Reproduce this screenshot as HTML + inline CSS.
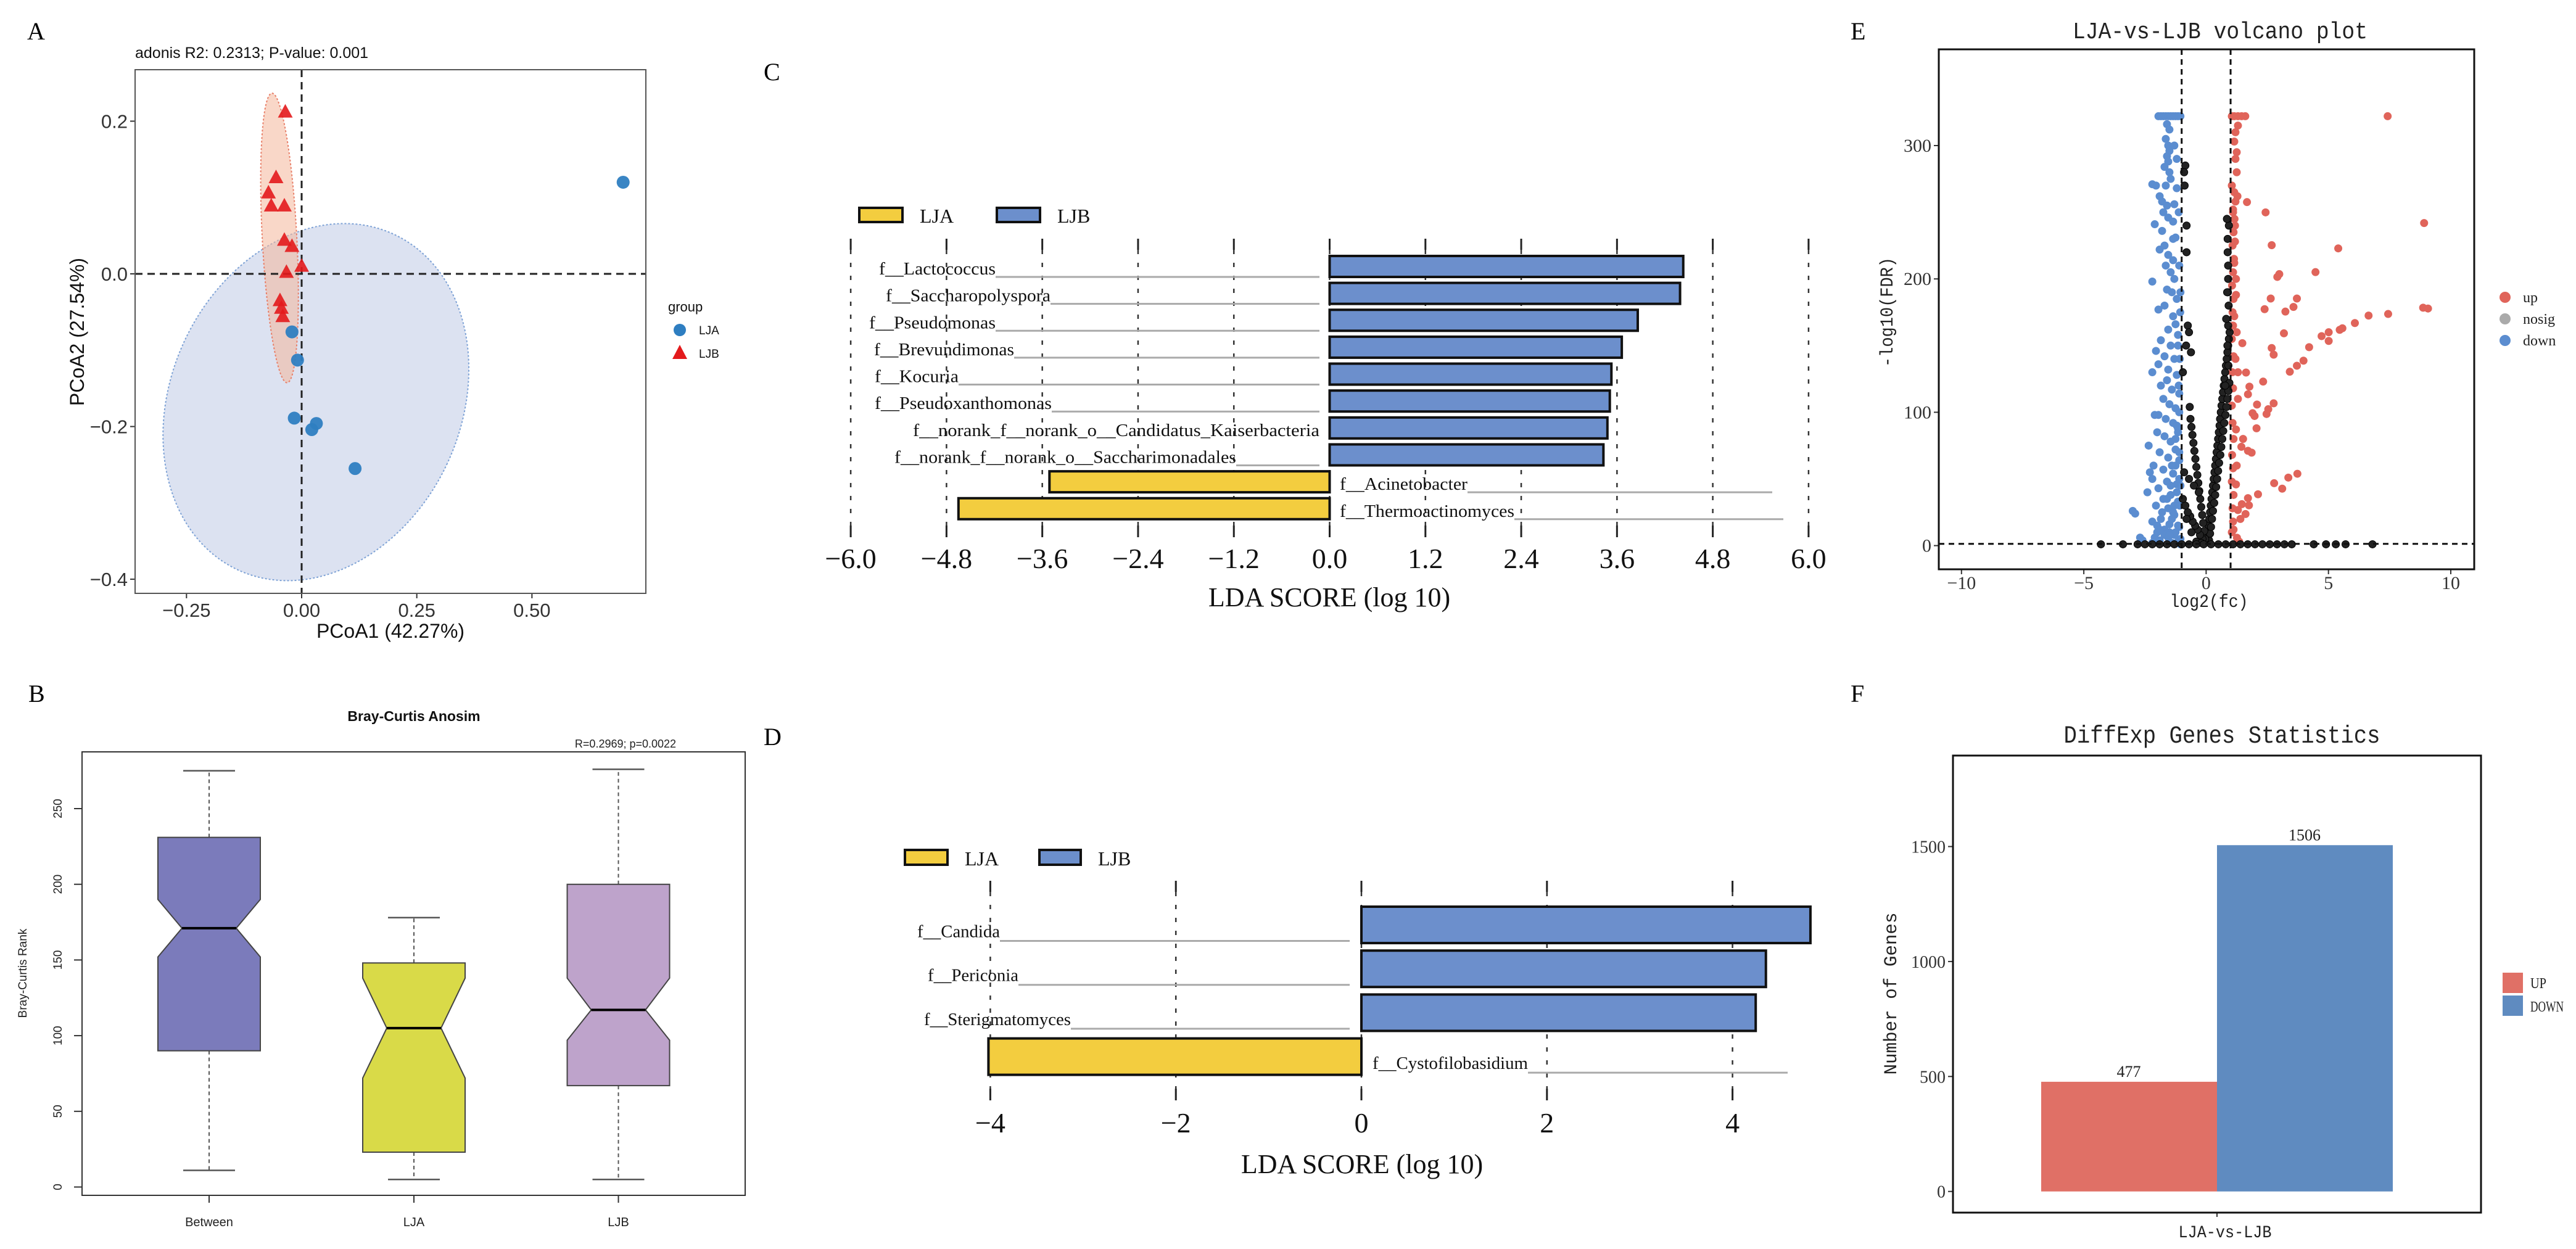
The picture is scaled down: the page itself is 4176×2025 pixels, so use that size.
<!DOCTYPE html>
<html><head><meta charset="utf-8">
<style>
html,body{margin:0;padding:0;background:#fff;}
svg{display:block;}
.serif{font-family:"Liberation Serif","Noto Serif CJK SC",serif;}
.sans{font-family:"Liberation Sans",sans-serif;}
.mono{font-family:"Liberation Mono","Noto Sans CJK SC",monospace;}
</style></head>
<body>
<svg id="fig" xmlns="http://www.w3.org/2000/svg" width="4176" height="2025" viewBox="0 0 4176 2025">
<rect x="0" y="0" width="4176" height="2025" fill="#fff"/>

<!-- Panel letters -->
<text class="serif" x="44" y="64" font-size="40">A</text>
<text class="serif" x="46" y="1138" font-size="40">B</text>
<text class="serif" x="1238" y="130" font-size="40">C</text>
<text class="serif" x="1238" y="1208" font-size="40">D</text>
<text class="serif" x="3000" y="64" font-size="40">E</text>
<text class="serif" x="3000" y="1138" font-size="40">F</text>

<!-- Panel A -->
<g id="panelA">
  <text class="sans" x="219" y="94" font-size="25" fill="#111">adonis R2: 0.2313; P-value: 0.001</text>
  <g id="pcoaPlot"></g>
  <rect x="219" y="113" width="828" height="849" fill="none" stroke="#555" stroke-width="2"/>
  <text class="sans" x="633" y="1034" font-size="32" text-anchor="middle" fill="#111">PCoA1 (42.27%)</text>
  <text class="sans" x="136" y="538" font-size="32" text-anchor="middle" fill="#111" transform="rotate(-90 136 538)">PCoA2 (27.54%)</text>
  <text class="sans" x="1083" y="505" font-size="22" fill="#111">group</text>
  <circle cx="1102" cy="535" r="10" fill="#2E7EC1"/>
  <text class="sans" x="1133" y="542" font-size="19" fill="#111">LJA</text>
  <polygon points="1102,559 1114,582 1090,582" fill="#E31A1C"/>
  <text class="sans" x="1133" y="580" font-size="19" fill="#111">LJB</text>
</g>

<!-- Panel B -->
<g id="panelB">
  <text class="sans" x="671" y="1169" font-size="23" font-weight="bold" text-anchor="middle" fill="#111">Bray-Curtis Anosim</text>
  <text class="sans" x="1014" y="1212" font-size="18" text-anchor="middle" fill="#222">R=0.2969; p=0.0022</text>
  <g id="anosimPlot"></g>
  <rect x="133" y="1219" width="1075" height="719" fill="none" stroke="#333" stroke-width="2"/>
  <text class="sans" x="43" y="1578" font-size="19" text-anchor="middle" fill="#222" transform="rotate(-90 43 1578)">Bray-Curtis Rank</text>
</g>

<!-- Panel C -->
<g id="panelC">
  <rect x="1393" y="337" width="70" height="23" fill="#F3CD3F" stroke="#111" stroke-width="4"/>
  <text class="serif" x="1491" y="361" font-size="32" fill="#111">LJA</text>
  <rect x="1616" y="337" width="70" height="23" fill="#6C8FCC" stroke="#111" stroke-width="4"/>
  <text class="serif" x="1714" y="361" font-size="32" fill="#111">LJB</text>
  <g id="ldaCPlot"></g>
  <text class="serif" x="2155" y="983" font-size="44" text-anchor="middle" fill="#111">LDA SCORE (log 10)</text>
</g>

<!-- Panel D -->
<g id="panelD">
  <rect x="1467" y="1378" width="69" height="24" fill="#F3CD3F" stroke="#111" stroke-width="4"/>
  <text class="serif" x="1564" y="1403" font-size="32" fill="#111">LJA</text>
  <rect x="1685" y="1378" width="67" height="24" fill="#6C8FCC" stroke="#111" stroke-width="4"/>
  <text class="serif" x="1780" y="1403" font-size="32" fill="#111">LJB</text>
  <g id="ldaDPlot"></g>
  <text class="serif" x="2208" y="1902" font-size="44" text-anchor="middle" fill="#111">LDA SCORE (log 10)</text>
</g>

<!-- Panel E -->
<g id="panelE">
  <text class="mono" x="3599" y="62" font-size="38" text-anchor="middle" textLength="478" lengthAdjust="spacingAndGlyphs" fill="#222">LJA-vs-LJB volcano plot</text>
  <g id="volPlot"></g>
  <rect x="3143" y="80" width="868" height="843" fill="none" stroke="#111" stroke-width="3"/>
  <text class="mono" x="3581" y="984" font-size="30" text-anchor="middle" textLength="127" lengthAdjust="spacingAndGlyphs" fill="#222">log2(fc)</text>
  <text class="mono" x="3068" y="506" font-size="30" text-anchor="middle" textLength="178" lengthAdjust="spacingAndGlyphs" fill="#222" transform="rotate(-90 3068 506)">-log10(FDR)</text>
  <circle cx="4061" cy="482" r="9" fill="#E0645A"/>
  <text class="serif" x="4090" y="490" font-size="24" fill="#222">up</text>
  <circle cx="4061" cy="517" r="9" fill="#AAAAAA"/>
  <text class="serif" x="4090" y="525" font-size="24" fill="#222">nosig</text>
  <circle cx="4061" cy="552" r="9" fill="#5B8DD0"/>
  <text class="serif" x="4090" y="560" font-size="24" fill="#222">down</text>
</g>

<!-- Panel F -->
<g id="panelF">
  <text class="mono" x="3602" y="1204" font-size="40" text-anchor="middle" textLength="513" lengthAdjust="spacingAndGlyphs" fill="#222">DiffExp Genes Statistics</text>
  <g id="degPlot"></g>
  <rect x="3166" y="1225" width="856" height="741" fill="none" stroke="#111" stroke-width="3"/>
  <text class="mono" x="3607" y="2006" font-size="28" text-anchor="middle" textLength="151" lengthAdjust="spacingAndGlyphs" fill="#222">LJA-vs-LJB</text>
  <text class="mono" x="3074" y="1611" font-size="30" text-anchor="middle" textLength="263" lengthAdjust="spacingAndGlyphs" fill="#222" transform="rotate(-90 3074 1611)">Number of Genes</text>
  <rect x="4057" y="1577" width="33" height="33" fill="#E07066"/>
  <text class="serif" x="4102" y="1602" font-size="24" textLength="26" lengthAdjust="spacingAndGlyphs" fill="#222">UP</text>
  <rect x="4057" y="1614" width="33" height="33" fill="#5F8BC0"/>
  <text class="serif" x="4102" y="1640" font-size="24" textLength="54" lengthAdjust="spacingAndGlyphs" fill="#222">DOWN</text>
</g>
</svg>

<script>
// ---------- DATA: Panel A (PCoA) ----------
const pcoaXTicks = [-0.25, 0, 0.25, 0.5];
const pcoaXTickLabels = ["\u22120.25", "0.00", "0.25", "0.50"];
const pcoaYTicks = [-0.4, -0.2, 0, 0.2];
const pcoaYTickLabels = ["\u22120.4", "\u22120.2", "0.0", "0.2"];
const pcoaLJBx = [-0.0355, -0.0556, -0.072, -0.066, -0.0375, -0.0375, -0.021, 0.0, -0.033, -0.047, -0.044, -0.041];
const pcoaLJBy = [0.212, 0.126, 0.106, 0.089, 0.089, 0.044, 0.036, 0.010, 0.002, -0.035, -0.045, -0.056];
const pcoaLJAx = [0.698, -0.021, -0.009, -0.016, 0.032, 0.022, 0.116];
const pcoaLJAy = [0.120, -0.076, -0.113, -0.189, -0.196, -0.204, -0.255];
const pcoaEllipseCenterX = [-0.048, 0.031];
const pcoaEllipseCenterY = [0.047, -0.168];

// ---------- DATA: Panel B (ANOSIM) ----------
const anosimCats = ["Between", "LJA", "LJB"];
const anosimLo = [11, 5, 5];
const anosimQ1 = [90, 23, 67];
const anosimNotchLo = [152, 72, 97];
const anosimMed = [171, 105, 117];
const anosimNotchHi = [190, 138, 138];
const anosimQ3 = [231, 148, 200];
const anosimHi = [275, 178, 276];
const anosimYTicks = [0, 50, 100, 150, 200, 250];

// ---------- DATA: Panel C (LEfSe bacteria) ----------
const ldaCNames = ["f__Lactococcus", "f__Saccharopolyspora", "f__Pseudomonas", "f__Brevundimonas", "f__Kocuria", "f__Pseudoxanthomonas", "f__norank_f__norank_o__Candidatus_Kaiserbacteria", "f__norank_f__norank_o__Saccharimonadales", "f__Acinetobacter", "f__Thermoactinomyces"];
const ldaCValues = [4.43, 4.39, 3.86, 3.66, 3.53, 3.51, 3.48, 3.43, -3.51, -4.65];
const ldaCTicks = [-6, -4.8, -3.6, -2.4, -1.2, 0, 1.2, 2.4, 3.6, 4.8, 6];
const ldaCTickLabels = ["\u22126.0", "\u22124.8", "\u22123.6", "\u22122.4", "\u22121.2", "0.0", "1.2", "2.4", "3.6", "4.8", "6.0"];

// ---------- DATA: Panel D (LEfSe fungi) ----------
const ldaDNames = ["f__Candida", "f__Periconia", "f__Sterigmatomyces", "f__Cystofilobasidium"];
const ldaDValues = [4.84, 4.36, 4.25, -4.02];
const ldaDTicks = [-4, -2, 0, 2, 4];
const ldaDTickLabels = ["\u22124", "\u22122", "0", "2", "4"];

// ---------- DATA: Panel E (volcano) ----------
const volXTicks = [-10, -5, 0, 5, 10];
const volXTickLabels = ["\u221210", "\u22125", "0", "5", "10"];
const volYTicks = [0, 100, 200, 300];
const volUpX = [7.42,1.67,2.43,8.91,2.68,5.40,4.47,2.99,2.91,2.64,3.71,2.39,3.57,8.87,9.07,7.44,3.24,6.64,6.08,5.57,5.46,5.01,4.72,3.18,5.01,1.48,4.21,2.68,2.76,3.98,3.71,3.42,1.63,2.33,1.77,1.71,2.76,2.08,2.54,1.90,2.47,1.98,2.06,1.22,1.51,1.44,1.71,1.86,3.73,3.36,2.78,3.11,1.22,2.12,1.71,1.46,1.75,1.61,1.30,1.26,
 1.05,1.10,1.08,1.12,1.05,1.10,1.06,1.12,1.08,1.05,1.10,1.07,1.12,1.05,1.10,1.08,1.12,1.06,1.10,1.14,1.08,1.12,1.16,1.10,1.20,1.15,1.05,1.20,1.25,1.15,1.20,1.30,1.05,1.15,1.30,1.45,1.60,1.25,1.18,1.22,1.25,1.30,1.18,1.15,1.22,1.10,1.28,1.15,1.20,1.12,1.35,1.40,1.30,1.25];
const volUpY = [322.5,257.6,249.9,241.9,225.3,222.9,205.1,203.6,201.5,185.3,185.3,177.3,179,178.4,177.8,173.7,175.5,172.5,166.9,163,161.8,160,157.1,159.2,153.5,151.8,148.8,148.2,143.2,138.7,134.9,130.4,129.8,123,119.2,113.5,106.7,105.8,102.3,99.3,98.7,97.2,88,87.1,80,74.1,71.1,69.7,53.9,51,46.8,42.7,45.9,38.5,35.6,31.1,30.2,23.7,26.7,5.9,
 10,18,28,38,48,58,68,80,92,105,118,130,142,155,165,175,185,195,205,215,225,235,245,252,258,265,270,290,295,303,310,315,322,322,322,322,322,280,240,200,160,130,228,212,188,250,262,172,140,12,3,20,110,60];
const volDownX = [-1.95,-1.85,-1.75,-1.65,-1.55,-1.45,-1.35,-1.25,-1.15,-1.05,
 -1.6,-1.5,-1.65,-1.55,-1.5,-1.6,-1.55,-1.7,-1.5,-1.45,-1.65,-2.2,-2.05,-1.2,-1.9,-1.8,-1.6,-1.3,-1.75,-1.55,-1.35,-2.1,-1.8,-1.25,-1.7,-1.9,-1.55,-1.35,-1.65,-1.45,-1.3,-2.2,-1.6,-1.4,-1.2,-1.7,-1.95,-1.35,-1.25,-1.55,-1.15,-1.85,-1.45,-2.05,-1.7,-1.3,-1.95,-1.55,-2.2,-1.2,-1.6,-1.85,-1.4,-1.1,-1.75,-1.5,-1.25,-2.1,-1.95,-1.65,-1.35,-1.15,-2.0,-1.7,-1.45,-2.35,-1.25,-1.9,-1.55,-1.1,-2.15,-1.75,-1.35,-2.3,-2.2,-1.6,-1.2,-1.95,-2.4,-1.45,-1.75,-1.15,-2.05,-1.55,-3.0,-2.9,-1.3,-1.85,-2.2,-1.5,-1.1,-1.7,-2.0,-1.3,-1.55,-2.7,-2.6,-1.9,-1.15,-1.4,-2.2,-1.05,-1.25,-1.05,-1.1,-1.08,-1.06,-1.1,-1.12,-1.2,-1.3,-1.15,-1.08,-1.12,
 -1.1,-1.2,-1.3,-1.4,-1.15,-1.25,-1.35,-1.1,-1.2,-1.05,-1.45,-1.6,-1.8,-2.0,-1.5,-1.7,-1.9,-2.1,-1.4,-1.25,-1.15,-1.05,-1.35,-1.5];
const volDownY = [322,322,322,322,322,322,322,322,322,322,
 316,312,305,300,296,292,288,284,280,275,270,271,270,268,262,258,255,256,250,246,243,241,236,231,225,222,218,214,210,205,200,198,192,190,185,180,177,172,166,162,158,154,150,146,142,140,136,132,130,128,124,120,117,114,110,106,103,98,98,95,92,88,85,82,78,75,72,70,66,64,60,57,54,55,50,48,46,43,40,38,35,33,30,28,26,24,23,20,18,16,14,12,10,8,6,6,4,4,3,2,2,1,60,45,100,140,175,210,250,290,300,85,30,120,
 50,40,30,20,15,10,25,70,90,5,45,35,25,15,10,8,12,6,60,80,150,190,230,8];
const volNsX = [0.05,0.08,0.10,0.13,0.16,0.19,0.22,0.25,0.28,0.31,0.34,0.37,0.40,0.43,0.46,0.49,0.52,0.55,0.57,0.60,0.63,0.66,0.69,0.72,0.75,0.78,0.81,0.84,0.87,0.90,0.93,0.96,
 0.12,0.16,0.20,0.24,0.28,0.33,0.37,0.41,0.45,0.49,0.53,0.58,0.62,0.66,0.70,0.74,0.79,0.83,0.87,0.91,0.95,0.92,0.90,0.88,0.93,0.90,0.87,0.91,0.89,
 -0.04,-0.08,-0.12,-0.16,-0.20,-0.24,-0.28,-0.32,-0.36,-0.40,-0.44,-0.48,-0.52,-0.56,-0.60,-0.64,-0.67,
 -0.15,-0.25,-0.35,-0.45,-0.55,-0.65,-0.75,-0.85,-0.95,-0.30,-0.50,-0.70,-0.90,-0.60,-0.80,-0.40,-0.20,
 -4.3,-3.4,-2.8,-2.5,-2.2,-1.9,-1.6,-1.3,-1.0,-0.7,-0.4,-0.1,0.2,0.5,0.8,1.1,1.4,1.7,2.0,2.3,2.6,2.9,3.2,3.5,4.4,4.9,5.3,5.7,6.8,
 -0.85,-0.9,-0.8,-0.8,-0.75,-0.7,-0.62,-0.88,-0.82,-0.95,0.85,0.88,0.9,0.86,0.82,0.78];
const volNsY = [5,10,15,20,25,30,35,40,45,50,55,60,65,70,75,80,85,90,95,100,105,110,115,120,125,130,135,140,145,150,155,160,
 4,9,14,20,26,32,38,44,50,56,62,68,74,80,86,92,98,104,110,116,122,180,200,220,240,165,150,135,190,
 5,11,17,23,29,35,41,47,53,59,65,71,77,83,89,95,104,
 5,8,12,15,18,22,25,30,35,40,45,50,55,10,20,3,2,
 1,1,1,1,1,1,1,1,1,1,1,1,1,1,1,1,1,1,1,1,1,1,1,1,1,1,1,1,1,
 285,280,240,220,165,160,145,270,150,130,245,230,210,190,170,120];

// ---------- DATA: Panel F ----------
const degCats = ["UP", "DOWN"];
const degValues = [477, 1506];
const degYTicks = [0, 500, 1000, 1500];

// ---------- LAYOUT (positions, not data) ----------
const ldaCLabelLeft = [1425, 1436, 1409, 1417, 1418, 1418, 1480, 1450, 2172, 2172];
const ldaCLabelEnd = [1614, 1703, 1614, 1644, 1554, 1705, 2139, 2004, 2379, 2455];
const ldaCLineEnd = [2139, 2139, 2139, 2139, 2139, 2139, 2139, 2139, 2873, 2891];
const ldaDLabelLeft = [1487, 1504, 1498, 2225];
const ldaDLabelEnd = [1621, 1651, 1736, 2477];
const ldaDLineEnd = [2188, 2188, 2188, 2898];

const NS = "http://www.w3.org/2000/svg";
function mk(tag, attrs, parent) {
  const e = document.createElementNS(NS, tag);
  for (const k in attrs) e.setAttribute(k, attrs[k]);
  parent.appendChild(e);
  return e;
}
function txt(parent, s, attrs) {
  const e = mk("text", attrs, parent);
  e.textContent = s;
  return e;
}

// ===== Panel A =====
(function () {
  const g = document.getElementById("pcoaPlot");
  const ax = v => 489 + v * 746.7;
  const ay = v => 444 - v * 1237.7;
  const eb = mk("ellipse", {cx: ax(pcoaEllipseCenterX[1]), cy: ay(pcoaEllipseCenterY[1]), rx: 235, ry: 300,
    transform: "rotate(25 " + ax(pcoaEllipseCenterX[1]) + " " + ay(pcoaEllipseCenterY[1]) + ")",
    fill: "#B9C6E4", "fill-opacity": 0.5, stroke: "#7FA3D6", "stroke-width": 2, "stroke-dasharray": "3,3"}, g);
  
  
  const er = mk("ellipse", {cx: ax(pcoaEllipseCenterX[0]), cy: ay(pcoaEllipseCenterY[0]), rx: 28, ry: 235,
    transform: "rotate(-3 " + ax(pcoaEllipseCenterX[0]) + " " + ay(pcoaEllipseCenterY[0]) + ")",
    fill: "#F4B79A", "fill-opacity": 0.55, stroke: "#E8806A", "stroke-width": 2, "stroke-dasharray": "3,3"}, g);
  
  
  const zl1 = mk("line", {x1: ax(0), x2: ax(0), y1: 113, y2: 962, stroke: "#222", "stroke-width": 3, "stroke-dasharray": "12,8"}, g);
  
  
  const zl2 = mk("line", {x1: 219, x2: 1047, y1: ay(0), y2: ay(0), stroke: "#222", "stroke-width": 3, "stroke-dasharray": "12,8"}, g);
  
  
  for (let i = 0; i < pcoaLJAx.length; i++) {
    const c = mk("circle", {cx: ax(pcoaLJAx[i]), cy: ay(pcoaLJAy[i]), r: 10.5, fill: "#2E7EC1", "fill-opacity": 0.95}, g);
    
    
  }
  for (let i = 0; i < pcoaLJBx.length; i++) {
    const x = ax(pcoaLJBx[i]), y = ay(pcoaLJBy[i]);
    const p = mk("polygon", {points: x + "," + (y - 13) + " " + (x + 12) + "," + (y + 9) + " " + (x - 12) + "," + (y + 9), fill: "#E31A1C", "fill-opacity": 0.9}, g);
    
    
  }
  for (let i = 0; i < pcoaXTicks.length; i++) {
    const x = ax(pcoaXTicks[i]);
    const t = mk("line", {x1: x, x2: x, y1: 962, y2: 970, stroke: "#333", "stroke-width": 2}, g);
    
    
    const l = txt(g, pcoaXTickLabels[i], {x: x, y: 1000, "font-size": 31, "text-anchor": "middle", fill: "#333", class: "sans"});
    
    
  }
  for (let i = 0; i < pcoaYTicks.length; i++) {
    const y = ay(pcoaYTicks[i]);
    const t = mk("line", {x1: 211, x2: 219, y1: y, y2: y, stroke: "#333", "stroke-width": 2}, g);
    
    
    const l = txt(g, pcoaYTickLabels[i], {x: 207, y: y + 11, "font-size": 31, "text-anchor": "end", fill: "#333", class: "sans"});
    
    
  }
})();

// ===== Panel B =====
(function () {
  const g = document.getElementById("anosimPlot");
  const by = v => 1924.5 - v * 2.454;
  const bx = i => [339, 671, 1002.5][i];
  const fills = ["#7B7BBB", "#D9DA48", "#BEA3CB"];
  for (let i = 0; i < anosimCats.length; i++) {
    const cx = bx(i), x0 = cx - 83, x1 = cx + 83, n = 39;
    const w1 = mk("line", {x1: cx, x2: cx, y1: by(anosimQ3[i]), y2: by(anosimHi[i]), stroke: "#555", "stroke-width": 2, "stroke-dasharray": "6,5"}, g);
    
    
    const w2 = mk("line", {x1: cx, x2: cx, y1: by(anosimQ1[i]), y2: by(anosimLo[i]), stroke: "#555", "stroke-width": 2, "stroke-dasharray": "6,5"}, g);
    
    
    const c1 = mk("line", {x1: cx - 42, x2: cx + 42, y1: by(anosimHi[i]), y2: by(anosimHi[i]), stroke: "#555", "stroke-width": 2.5}, g);
    
    
    const c2 = mk("line", {x1: cx - 42, x2: cx + 42, y1: by(anosimLo[i]), y2: by(anosimLo[i]), stroke: "#555", "stroke-width": 2.5}, g);
    
    
    const pts = [[x0, by(anosimQ3[i])], [x1, by(anosimQ3[i])], [x1, by(anosimNotchHi[i])], [x1 - n, by(anosimMed[i])], [x1, by(anosimNotchLo[i])], [x1, by(anosimQ1[i])], [x0, by(anosimQ1[i])], [x0, by(anosimNotchLo[i])], [x0 + n, by(anosimMed[i])], [x0, by(anosimNotchHi[i])]];
    const box = mk("polygon", {points: pts.map(p => p.join(",")).join(" "), fill: fills[i], stroke: "#444", "stroke-width": 2}, g);
    
    
    const m = mk("line", {x1: x0 + n, x2: x1 - n, y1: by(anosimMed[i]), y2: by(anosimMed[i]), stroke: "#000", "stroke-width": 4}, g);
    
    
    const t = mk("line", {x1: cx, x2: cx, y1: 1938, y2: 1950, stroke: "#333", "stroke-width": 2}, g);
    
    
    const l = txt(g, anosimCats[i], {x: cx, y: 1988, "font-size": 20, "text-anchor": "middle", fill: "#222", class: "sans"});
    
    
  }
  for (let i = 0; i < anosimYTicks.length; i++) {
    const y = by(anosimYTicks[i]);
    const t = mk("line", {x1: 120, x2: 133, y1: y, y2: y, stroke: "#333", "stroke-width": 2}, g);
    
    
    const l = txt(g, String(anosimYTicks[i]), {x: 100, y: y, "font-size": 19, "text-anchor": "middle", fill: "#222", class: "sans", transform: "rotate(-90 100 " + y + ")"});
    
    
  }
})();

// ===== LDA bar chart builder =====
function ldaChart(g, names, values, ticks, tickLabels, opt) {
  const sx = v => opt.zero + v * opt.unit;
  for (let i = 0; i < ticks.length; i++) {
    const x = sx(ticks[i]);
    const a = mk("line", {x1: x, x2: x, y1: opt.top, y2: opt.top + 18, stroke: "#222", "stroke-width": 3}, g);
    
    
    const d = mk("line", {x1: x, x2: x, y1: opt.top + 18, y2: opt.bot, stroke: "#333", "stroke-width": 2.5, "stroke-dasharray": "7,14"}, g);
    
    
    const b = mk("line", {x1: x, x2: x, y1: opt.bot, y2: opt.bot + 19, stroke: "#222", "stroke-width": 3}, g);
    
    
    const l = txt(g, tickLabels[i], {x: x, y: opt.tickY, "font-size": 46, "text-anchor": "middle", fill: "#111", class: "serif"});
    
    
  }
  for (let i = 0; i < names.length; i++) {
    const c = opt.row0 + i * opt.pitch;
    const v = values[i];
    const x0 = Math.min(sx(0), sx(v)), w = Math.abs(sx(v) - sx(0));
    const r = mk("rect", {x: x0, y: c - opt.bh / 2, width: w, height: opt.bh, fill: v > 0 ? "#6C8FCC" : "#F3CD3F", stroke: "#111", "stroke-width": 4}, g);
    
    
    const left = opt.labelLeft[i], end = opt.labelEnd[i];
    const ln = mk("line", {x1: end, x2: opt.lineEnd[i], y1: c + opt.lineOff, y2: c + opt.lineOff, stroke: "#aaa", "stroke-width": 3}, g);
    
    
    const t = txt(g, names[i], {x: left, y: c + opt.baseOff, "font-size": opt.fs, fill: "#111", class: "serif", textLength: end - left, lengthAdjust: "spacingAndGlyphs"});
    
    
  }
}
ldaChart(document.getElementById("ldaCPlot"), ldaCNames, ldaCValues, ldaCTicks, ldaCTickLabels,
  {zero: 2155.5, unit: 129.4, top: 387, bot: 852, tickY: 921, row0: 432, pitch: 43.64, bh: 34, fs: 28, baseOff: 13, lineOff: 17,
   labelLeft: ldaCLabelLeft, labelEnd: ldaCLabelEnd, lineEnd: ldaCLineEnd});
ldaChart(document.getElementById("ldaDPlot"), ldaDNames, ldaDValues, ldaDTicks, ldaDTickLabels,
  {zero: 2207, unit: 150.4, top: 1428, bot: 1765, tickY: 1836, row0: 1499.5, pitch: 71.2, bh: 59, fs: 28, baseOff: 20, lineOff: 26,
   labelLeft: ldaDLabelLeft, labelEnd: ldaDLabelEnd, lineEnd: ldaDLineEnd});

// ===== Panel E =====
(function () {
  const g = document.getElementById("volPlot");
  const vx = v => 3576.4 + v * 39.66;
  const vy = v => 884.6 - v * 2.162;
  function pts(xs, ys, fill, stroke, name) {
    const n = Math.min(xs.length, ys.length);
    for (let i = 0; i < n; i++) {
      const c = mk("circle", {cx: vx(xs[i]), cy: vy(Math.min(ys[i], 322)), r: 6, fill: fill, stroke: stroke, "stroke-width": 1}, g);
      
      
    }
  }
  pts(volDownX, volDownY, "#5B8DD0", "#5B8DD0", "volcano-down-point");
  pts(volUpX, volUpY, "#E0645A", "#E0645A", "volcano-up-point");
  pts(volNsX, volNsY, "#222", "#000", "volcano-nosig-point");
  const d1 = mk("line", {x1: vx(-1), x2: vx(-1), y1: 80, y2: 923, stroke: "#111", "stroke-width": 3, "stroke-dasharray": "9,7"}, g);
  
  
  const d2 = mk("line", {x1: vx(1), x2: vx(1), y1: 80, y2: 923, stroke: "#111", "stroke-width": 3, "stroke-dasharray": "9,7"}, g);
  
  
  const d3 = mk("line", {x1: 3143, x2: 4011, y1: vy(1.3), y2: vy(1.3), stroke: "#111", "stroke-width": 3, "stroke-dasharray": "9,7"}, g);
  
  
  for (let i = 0; i < volXTicks.length; i++) {
    const x = vx(volXTicks[i]);
    const t = mk("line", {x1: x, x2: x, y1: 923, y2: 931, stroke: "#333", "stroke-width": 2}, g);
    
    
    const l = txt(g, volXTickLabels[i], {x: x, y: 955, "font-size": 30, "text-anchor": "middle", fill: "#333", class: "serif"});
    
    
  }
  for (let i = 0; i < volYTicks.length; i++) {
    const y = vy(volYTicks[i]);
    const t = mk("line", {x1: 3135, x2: 3143, y1: y, y2: y, stroke: "#333", "stroke-width": 2}, g);
    
    
    const l = txt(g, String(volYTicks[i]), {x: 3131, y: y + 10, "font-size": 30, "text-anchor": "end", fill: "#333", class: "serif"});
    
    
  }
})();

// ===== Panel F =====
(function () {
  const g = document.getElementById("degPlot");
  const fy = v => 1931.7 - v * 0.3728;
  const fills = ["#E07066", "#5F8BC0"];
  const barX = [3309, 3594];
  for (let i = 0; i < degCats.length; i++) {
    const r = mk("rect", {x: barX[i], y: fy(degValues[i]), width: 285, height: fy(0) - fy(degValues[i]), fill: fills[i]}, g);
    
    
    const l = txt(g, String(degValues[i]), {x: barX[i] + 142, y: fy(degValues[i]) - 8, "font-size": 26, "text-anchor": "middle", fill: "#222", class: "serif"});
    
    
  }
  for (let i = 0; i < degYTicks.length; i++) {
    const y = fy(degYTicks[i]);
    const t = mk("line", {x1: 3158, x2: 3166, y1: y, y2: y, stroke: "#333", "stroke-width": 2}, g);
    
    
    const l = txt(g, String(degYTicks[i]), {x: 3154, y: y + 10, "font-size": 28, "text-anchor": "end", fill: "#333", class: "serif"});
    
    
  }
  const xt = mk("line", {x1: 3594, x2: 3594, y1: 1966, y2: 1973, stroke: "#333", "stroke-width": 2}, g);
  
  
})();
</script>
</body></html>
